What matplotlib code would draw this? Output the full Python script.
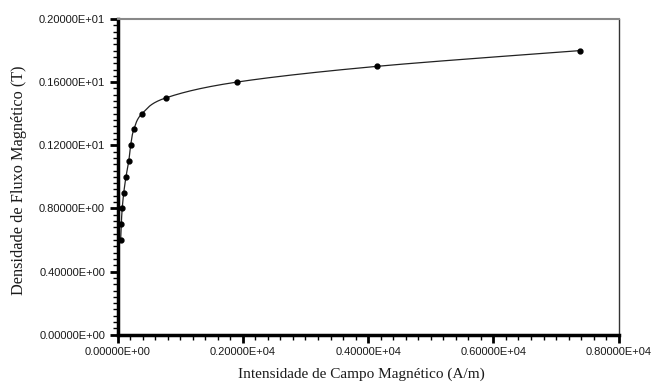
import numpy as np
import matplotlib
matplotlib.use('Agg')
import matplotlib.pyplot as plt
from matplotlib.ticker import MultipleLocator, FuncFormatter

# Curva BH
H = [50, 60, 75, 100, 135, 180, 210, 260, 390, 770, 1900, 4140, 7390]
B = [0.6, 0.7, 0.8, 0.9, 1.0, 1.1, 1.2, 1.3, 1.4, 1.5, 1.6, 1.7, 1.8]

x_ticks = [0, 2000, 4000, 6000, 8000]
y_ticks = [0.0, 0.4, 0.8, 1.2, 1.6, 2.0]


def fortran_fmt(v, pos=None):
    # formato tipo 0.20000E+01
    if v == 0:
        return '0.00000E+00'
    e = int(np.floor(np.log10(abs(v)))) + 1
    m = v / 10 ** e
    return '%.5fE%+03d' % (m, e)


def catmull_rom(px, py, n=30):
    # linha suave so para o desenho (espaco normalizado dos eixos)
    p = np.column_stack([px, py])
    p = np.vstack([p[0], p, p[-1]])
    out = []
    for i in range(1, len(p) - 2):
        p0, p1, p2, p3 = p[i - 1], p[i], p[i + 1], p[i + 2]
        t = np.linspace(0, 1, n)[:, None]
        out.append(0.5 * ((2 * p1) + (-p0 + p2) * t + (2 * p0 - 5 * p1 + 4 * p2 - p3) * t ** 2
                          + (-p0 + 3 * p1 - 3 * p2 + p3) * t ** 3))
    return np.vstack(out)


fig = plt.figure(figsize=(6.51, 3.83), dpi=100)
ax = fig.add_axes([0.1805, 0.1261, 0.7699, 0.8243])

xs = np.array(H) / 8000.0
ys = np.array(B) / 2.0
c = catmull_rom(xs, ys)
ax.plot(c[:, 0] * 8000, c[:, 1] * 2, color='#222222', lw=0.9)
ax.plot(H, B, 'o', color='black', ms=3.5)

ax.set_xlim(0, 8000)
ax.set_ylim(0, 2.0)
ax.set_xticks(x_ticks)
ax.set_yticks(y_ticks)
ax.xaxis.set_minor_locator(MultipleLocator(200))
ax.yaxis.set_minor_locator(MultipleLocator(0.04))
ax.xaxis.set_major_formatter(FuncFormatter(fortran_fmt))
ax.yaxis.set_major_formatter(FuncFormatter(fortran_fmt))

for lab in ax.get_xticklabels() + ax.get_yticklabels():
    lab.set_family('Liberation Sans')
    lab.set_fontsize(8)
    lab.set_color('#1a1a1a')

ax.tick_params(which='major', direction='out', length=6, width=2, pad=3)
ax.tick_params(which='minor', direction='out', length=3.5, width=1)
ax.tick_params(top=False, right=False)

ax.spines['left'].set_linewidth(2.5)
ax.spines['bottom'].set_linewidth(2.5)
ax.spines['top'].set_color('#888888')
ax.spines['top'].set_linewidth(1.5)
ax.spines['right'].set_color('#333333')
ax.spines['right'].set_linewidth(1)

ax.set_xlabel('Intensidade de Campo Magnético (A/m)', family='Liberation Serif',
              fontsize=11, color='#1a1a1a')
ax.set_ylabel('Densidade de Fluxo Magnético (T)', family='Liberation Serif',
              fontsize=11.7, color='#1a1a1a')
ax.xaxis.set_label_coords(0.486, -0.103)
ax.yaxis.set_label_coords(-0.18, 0.49)

fig.savefig('out.png', dpi=100)
